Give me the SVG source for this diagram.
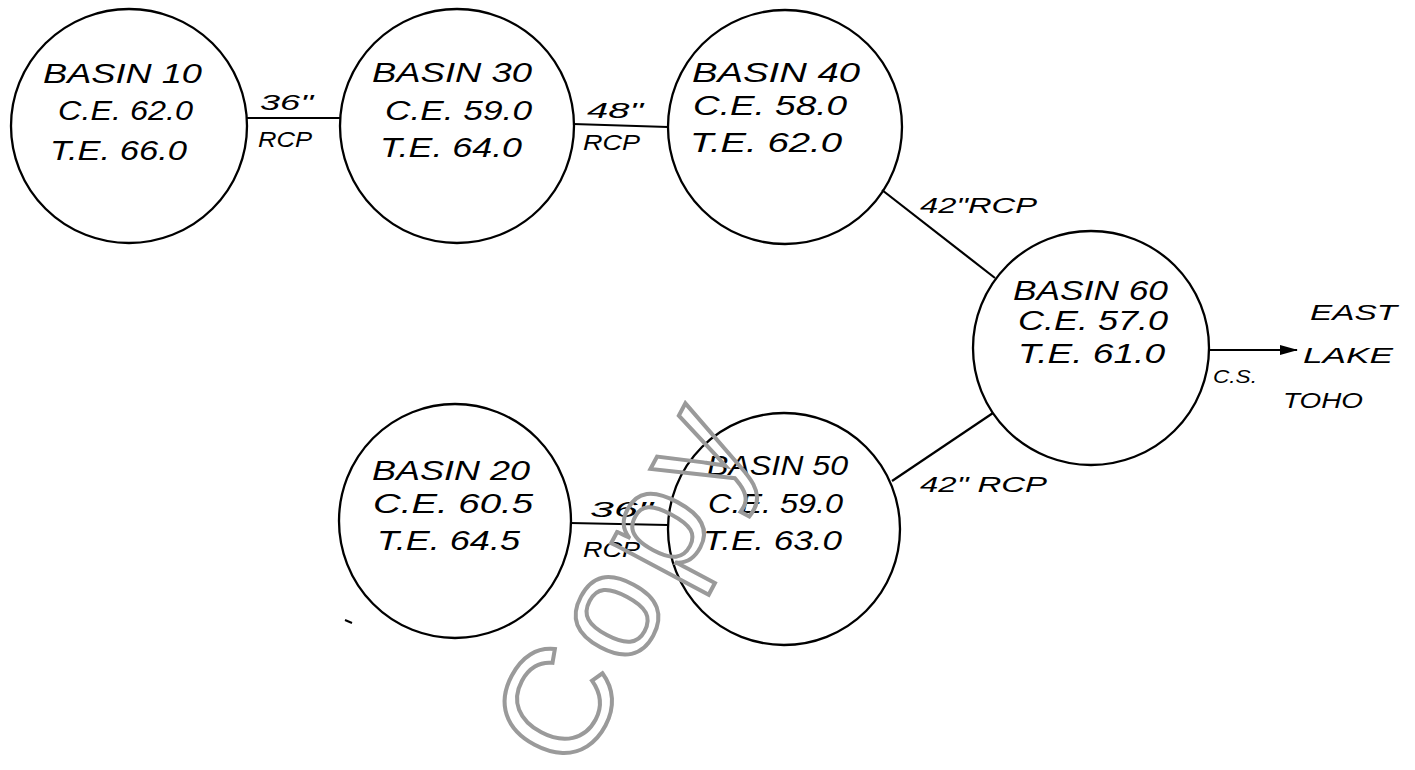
<svg xmlns="http://www.w3.org/2000/svg" width="1415" height="770" viewBox="0 0 1415 770">
<defs>
<style>
.basin{fill:none;stroke:#000;stroke-width:2.3}
.pipe{fill:none;stroke:#000;stroke-width:2.2}
.t{font-family:"Liberation Sans",Arial,sans-serif;font-style:italic;font-size:27px;fill:#000}
.s{font-family:"Liberation Sans",Arial,sans-serif;font-style:italic;font-size:22px;fill:#000}
.wm{font-family:"Liberation Sans",Arial,sans-serif;font-size:150px;letter-spacing:10px;fill:none;stroke:#9a9a9a;stroke-width:4}
</style>
<marker id="arr" viewBox="0 0 18 10" refX="17" refY="5" markerWidth="18" markerHeight="10" markerUnits="userSpaceOnUse" orient="auto">
<path d="M0,0 L18,5 L0,10 Z" fill="#000"/>
</marker>
</defs>
<rect width="1415" height="770" fill="#fff"/>
<g id="connectors">
<line class="pipe" x1="247" y1="118" x2="340" y2="118"/>
<line class="pipe" x1="573" y1="124" x2="668" y2="127"/>
<line class="pipe" x1="882" y1="190" x2="995" y2="278"/>
<line class="pipe" x1="892" y1="481" x2="993" y2="413"/>
<line class="pipe" x1="570" y1="523" x2="668" y2="525"/>
<line class="pipe" x1="1208" y1="350" x2="1297" y2="350" marker-end="url(#arr)"/>
<text class="s" x="260" y="110" textLength="53" lengthAdjust="spacingAndGlyphs">36"</text>
<text class="s" x="258" y="147" textLength="54" lengthAdjust="spacingAndGlyphs">RCP</text>
<text class="s" x="587" y="118" textLength="56" lengthAdjust="spacingAndGlyphs">48"</text>
<text class="s" x="583" y="150" textLength="57" lengthAdjust="spacingAndGlyphs">RCP</text>
<text class="s" x="920" y="213" textLength="117" lengthAdjust="spacingAndGlyphs">42"RCP</text>
<text class="s" x="920" y="492" textLength="127" lengthAdjust="spacingAndGlyphs">42" RCP</text>
<text class="s" x="590" y="517" textLength="63" lengthAdjust="spacingAndGlyphs">36"</text>
<text class="s" x="583" y="557" textLength="57" lengthAdjust="spacingAndGlyphs">RCP</text>
<text class="s" x="1213" y="383" textLength="44" lengthAdjust="spacingAndGlyphs" style="font-size:18px">C.S.</text>
</g>
<g id="basin10">
<ellipse class="basin" cx="129" cy="126" rx="118" ry="117"/>
<text class="t" x="43" y="83" textLength="159" lengthAdjust="spacingAndGlyphs">BASIN 10</text>
<text class="t" x="58" y="120" textLength="135" lengthAdjust="spacingAndGlyphs">C.E. 62.0</text>
<text class="t" x="50" y="160" textLength="137" lengthAdjust="spacingAndGlyphs">T.E. 66.0</text>
</g>
<g id="basin30">
<ellipse class="basin" cx="457" cy="126" rx="117" ry="117"/>
<text class="t" x="372" y="82" textLength="160" lengthAdjust="spacingAndGlyphs">BASIN 30</text>
<text class="t" x="385" y="120" textLength="147" lengthAdjust="spacingAndGlyphs">C.E. 59.0</text>
<text class="t" x="380" y="157" textLength="142" lengthAdjust="spacingAndGlyphs">T.E. 64.0</text>
</g>
<g id="basin40">
<ellipse class="basin" cx="785" cy="127" rx="117" ry="117"/>
<text class="t" x="692" y="82" textLength="168" lengthAdjust="spacingAndGlyphs">BASIN 40</text>
<text class="t" x="693" y="115" textLength="154" lengthAdjust="spacingAndGlyphs">C.E. 58.0</text>
<text class="t" x="690" y="152" textLength="152" lengthAdjust="spacingAndGlyphs">T.E. 62.0</text>
</g>
<g id="basin60">
<ellipse class="basin" cx="1091" cy="348" rx="118" ry="117"/>
<text class="t" x="1013" y="300" textLength="155" lengthAdjust="spacingAndGlyphs">BASIN 60</text>
<text class="t" x="1018" y="330" textLength="150" lengthAdjust="spacingAndGlyphs">C.E. 57.0</text>
<text class="t" x="1018" y="363" textLength="147" lengthAdjust="spacingAndGlyphs">T.E. 61.0</text>
</g>
<g id="basin20">
<ellipse class="basin" cx="455" cy="521" rx="116" ry="117"/>
<text class="t" x="372" y="480" textLength="158" lengthAdjust="spacingAndGlyphs">BASIN 20</text>
<text class="t" x="373" y="513" textLength="160" lengthAdjust="spacingAndGlyphs">C.E. 60.5</text>
<text class="t" x="377" y="550" textLength="143" lengthAdjust="spacingAndGlyphs">T.E. 64.5</text>
</g>
<g id="basin50">
<ellipse class="basin" cx="784" cy="529" rx="116" ry="116"/>
<text class="t" x="707" y="475" textLength="141" lengthAdjust="spacingAndGlyphs">BASIN 50</text>
<text class="t" x="708" y="513" textLength="135" lengthAdjust="spacingAndGlyphs">C.E. 59.0</text>
<text class="t" x="703" y="550" textLength="139" lengthAdjust="spacingAndGlyphs">T.E. 63.0</text>
</g>
<g id="outfall">
<text class="s" x="1310" y="320" textLength="87" lengthAdjust="spacingAndGlyphs">EAST</text>
<text class="s" x="1303" y="363" textLength="90" lengthAdjust="spacingAndGlyphs">LAKE</text>
<text class="s" x="1283" y="408" textLength="80" lengthAdjust="spacingAndGlyphs">TOHO</text>
</g>
<line x1="345" y1="620" x2="352" y2="623" stroke="#000" stroke-width="2"/>
<text class="wm" transform="translate(577,776) rotate(-62)">Copy</text>
</svg>
